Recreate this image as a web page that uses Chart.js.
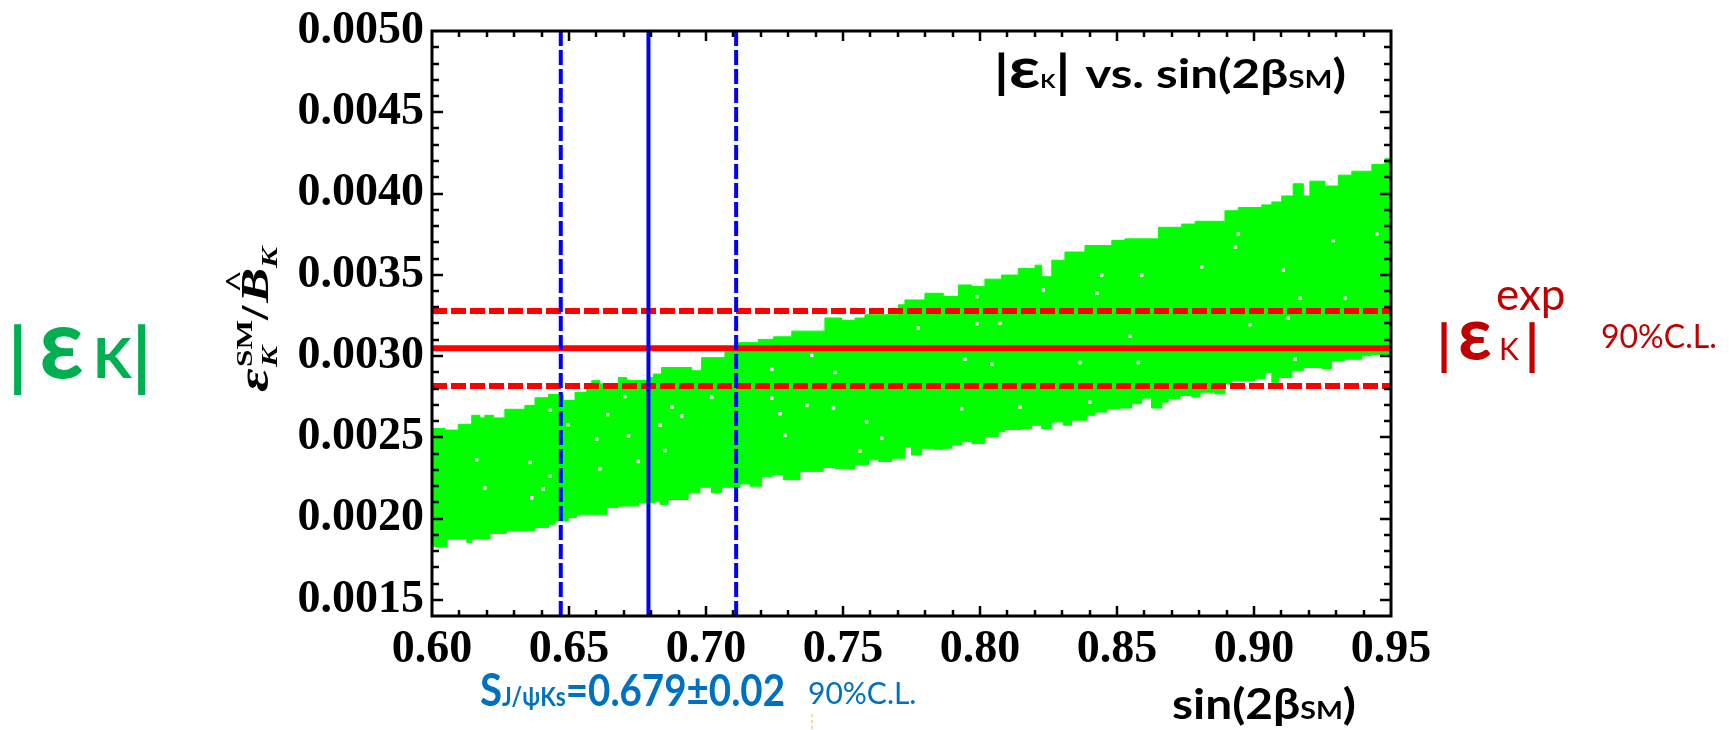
<!DOCTYPE html>
<html>
<head>
<meta charset="utf-8">
<script src="https://cdn.jsdelivr.net/npm/chart.js@4.4.1/dist/chart.umd.min.js"></script>
<style>
  html, body { margin: 0; padding: 0; background: #ffffff; }
  #wrap { width: 1734px; height: 730px; position: relative; }
</style>
</head>
<body>
<div id="wrap"><canvas id="c" width="1734" height="730"></canvas></div>
<script>
// ---------------- data ----------------
const xRange = [0.60, 0.95];
const yRange = [0.0014, 0.0050];
const xTickValues = [0.60, 0.65, 0.70, 0.75, 0.80, 0.85, 0.90, 0.95];
const yTickValues = [0.0015, 0.0020, 0.0025, 0.0030, 0.0035, 0.0040, 0.0045, 0.0050];

// upper envelope of the green scan region (x where each step starts, value of the step)
const upperX = [0.6000, 0.6005, 0.6047, 0.6096, 0.6145, 0.6175, 0.6193, 0.6224, 0.6266, 0.6339, 0.6376, 0.6425, 0.6479, 0.6522, 0.6565, 0.6583, 0.6613, 0.6638, 0.6680, 0.6711, 0.6790, 0.6808, 0.6838, 0.6948, 0.6984, 0.7069, 0.7118, 0.7191, 0.7246, 0.7313, 0.7434, 0.7495, 0.7544, 0.7580, 0.7702,
                0.7726, 0.7799, 0.7866, 0.7921, 0.7970, 0.8018, 0.8079, 0.8140, 0.8201, 0.8225, 0.8262, 0.8310, 0.8383, 0.8481, 0.8529, 0.8651, 0.8736, 0.8785, 0.8894, 0.8943, 0.9028, 0.9065, 0.9101, 0.9143, 0.9180, 0.9204, 0.9259, 0.9308, 0.9357, 0.9430, 0.9478, 0.9500];
const upperY = [0.002534, 0.002554, 0.002544, 0.002580, 0.002635, 0.002619, 0.002635, 0.002619, 0.002672, 0.002696, 0.002743, 0.002763, 0.002726, 0.002777, 0.002797, 0.002848, 0.002828, 0.002818, 0.002868, 0.002850, 0.002868, 0.002889, 0.002929, 0.002909, 0.002990, 0.003031, 0.003082, 0.003102, 0.003118, 0.003153, 0.003234, 0.003220, 0.003234, 0.003254, 0.003315,
                0.003345, 0.003386, 0.003366, 0.003437, 0.003427, 0.003473, 0.003498, 0.003538, 0.003559, 0.003488, 0.003589, 0.003640, 0.003680, 0.003711, 0.003721, 0.003792, 0.003812, 0.003829, 0.003894, 0.003914, 0.003930, 0.003948, 0.003985, 0.004060, 0.003985, 0.004076, 0.004046, 0.004113, 0.004137, 0.004178, 0.004214, 0.004214];

// lower envelope of the green scan region
const lowerX = [0.6000, 0.6055, 0.6127, 0.6145, 0.6212, 0.6272, 0.6376, 0.6425, 0.6449, 0.6497, 0.6528, 0.6638, 0.6680, 0.6753, 0.6814, 0.6832, 0.6862, 0.6935, 0.6978, 0.7020, 0.7057, 0.7124, 0.7161, 0.7203, 0.7240, 0.7282, 0.7343, 0.7428, 0.7471, 0.7544, 0.7593, 0.7629, 0.7678,
                0.7726, 0.7750, 0.7787, 0.7830, 0.7866, 0.7896, 0.7933, 0.7970, 0.8018, 0.8067, 0.8091, 0.8152, 0.8188, 0.8225, 0.8262, 0.8304, 0.8334, 0.8389, 0.8420, 0.8462, 0.8511, 0.8553, 0.8590, 0.8626, 0.8663, 0.8687, 0.8730, 0.8772, 0.8803, 0.8857, 0.8894, 0.8918, 0.9004, 0.9040, 0.9065, 0.9089, 0.9138, 0.9180, 0.9247, 0.9283, 0.9332, 0.9393, 0.9430, 0.9500];
const lowerY = [0.001827, 0.001874, 0.001853, 0.001874, 0.001908, 0.001924, 0.001945, 0.001965, 0.001985, 0.002006, 0.002026, 0.002067, 0.002077, 0.002097, 0.002107, 0.002087, 0.002117, 0.002158, 0.002192, 0.002158, 0.002192, 0.002213, 0.002199, 0.002259, 0.002270, 0.002239, 0.002290, 0.002314, 0.002306, 0.002331, 0.002361, 0.002351, 0.002371,
                0.002442, 0.002391, 0.002432, 0.002426, 0.002432, 0.002452, 0.002473, 0.002462, 0.002503, 0.002534, 0.002548, 0.002554, 0.002574, 0.002554, 0.002594, 0.002574, 0.002605, 0.002635, 0.002655, 0.002676, 0.002680, 0.002706, 0.002741, 0.002680, 0.002716, 0.002737, 0.002757, 0.002747, 0.002777, 0.002767, 0.002828, 0.002848, 0.002862, 0.002899, 0.002838, 0.002868, 0.002909, 0.002929, 0.002923, 0.002970, 0.002980, 0.003001, 0.003010, 0.003010];

// empty (white) spots inside the scanned region
const gapX = [0.6163, 0.6193, 0.6358, 0.6364, 0.6406, 0.6431, 0.6431, 0.6497, 0.6601, 0.6613, 0.6641, 0.6704, 0.6717, 0.6753, 0.6832, 0.6850, 0.6875, 0.6911, 0.7021, 0.7240, 0.7270, 0.7288, 0.7368, 0.7465, 0.7562, 0.7586, 0.7641, 0.7240, 0.7471, 0.7386,
              0.7775, 0.7988, 0.8073, 0.8365, 0.8547, 0.8985, 0.9125, 0.9107, 0.9289, 0.8943, 0.8931, 0.8809, 0.8590, 0.8444, 0.8426, 0.8231, 0.7988, 0.9168, 0.9332, 0.9448, 0.7933, 0.8146, 0.8401, 0.7945, 0.8043, 0.9150, 0.8577];
const gapY = [0.002361, 0.002188, 0.002345, 0.002127, 0.002182, 0.002260, 0.002666, 0.002578, 0.002489, 0.002306, 0.002639, 0.002751, 0.002509, 0.002351, 0.002574, 0.002418, 0.002686, 0.002631, 0.002747, 0.002741, 0.002645, 0.002513, 0.002696, 0.002680, 0.002416, 0.002594, 0.002493, 0.002919, 0.002899, 0.003004,
              0.003173, 0.003199, 0.003203, 0.002960, 0.003122, 0.003193, 0.003234, 0.003528, 0.003711, 0.003752, 0.003670, 0.003549, 0.003498, 0.003498, 0.003386, 0.003406, 0.003366, 0.003356, 0.003356, 0.003752, 0.002676, 0.002686, 0.002716, 0.002980, 0.002949, 0.002980, 0.002960];

// S_{J/psi Ks} band (vertical lines)
const sPsiKs = [0.647, 0.679, 0.711];     // low, central, high
// |eps_K| experimental band (horizontal lines)
const epsExp = [0.002816, 0.003047, 0.003277]; // low, central, high

// ---------------- helpers ----------------
const pts = (xs, ys) => xs.map((x, i) => ({ x: x, y: ys[i] }));
const hLine = (y) => [{ x: xRange[0], y: y }, { x: xRange[1], y: y }];
const vLine = (x) => [{ x: x, y: yRange[0] }, { x: x, y: yRange[1] }];

const GREEN = '#00ff00', RED = '#ff0000', BLUE = '#0000ff';

// draw a sequence of text runs; run: {t, font, dy, stack(back to previous x)}
function drawRuns(ctx, runs, x0, baseline, color, targetWidth) {
  ctx.save();
  let cur = 0, prevStart = 0;
  const layout = [];
  runs.forEach(r => {
    ctx.font = r.font;
    const w = ctx.measureText(r.t).width;
    let xs;
    if (r.stack) { xs = prevStart; cur = Math.max(cur, prevStart + w); }
    else { xs = cur; prevStart = cur; cur += w + (r.gap || 0); }
    layout.push({ r: r, x: xs, w: w });
  });
  const sx = targetWidth ? targetWidth / cur : 1;
  ctx.translate(x0, baseline);
  ctx.scale(sx, 1);
  ctx.fillStyle = color;
  ctx.textBaseline = 'alphabetic';
  ctx.textAlign = 'left';
  layout.forEach(l => {
    ctx.font = l.r.font;
    ctx.fillText(l.r.t, l.x, l.r.dy || 0);
    if (l.r.hat) {
      ctx.font = l.r.hatFont;
      const hw = ctx.measureText('^').width;
      ctx.fillText('^', l.x + l.w / 2 - hw / 2 + (l.r.hatDx || 0), (l.r.dy || 0) + l.r.hatDy);
    }
  });
  ctx.restore();
}

// frame, inward ticks and annotations
const framePlugin = {
  id: 'framePlugin',
  afterDatasetsDraw(chart) {
    const ctx = chart.ctx, a = chart.chartArea;
    const xs = chart.scales.x, ys = chart.scales.y;
    ctx.save();
    ctx.strokeStyle = '#000';
    ctx.lineWidth = 3;
    ctx.strokeRect(a.left, a.top, a.right - a.left, a.bottom - a.top);
    ctx.lineWidth = 2.5;
    ctx.beginPath();
    for (let i = 61; i < 95; i++) {
      const px = Math.round(xs.getPixelForValue(i / 100));
      const len = (i % 5 === 0) ? 10 : 6;
      ctx.moveTo(px, a.bottom); ctx.lineTo(px, a.bottom - len);
      ctx.moveTo(px, a.top); ctx.lineTo(px, a.top + len);
    }
    for (let i = 15; i < 50; i++) {
      const py = Math.round(ys.getPixelForValue(i / 10000));
      const len = (i % 5 === 0) ? 11 : 7;
      ctx.moveTo(a.left, py); ctx.lineTo(a.left + len, py);
      ctx.moveTo(a.right, py); ctx.lineTo(a.right - len, py);
    }
    ctx.stroke();
    ctx.restore();
  },
  afterDraw(chart) {
    const ctx = chart.ctx;
    // left green |eps_K|
    const gC = '#00b050';
    ctx.save();
    ctx.fillStyle = gC;
    ctx.textBaseline = 'alphabetic';
    ctx.font = 'bold 74px Lato';
    ctx.fillText('|', 8, 382);
    ctx.fillText('|', 132, 382);
    ctx.font = 'bold 98px Lato';
    ctx.fillText('ε', 39, 378);
    ctx.font = 'bold 56px Lato';
    ctx.fillText('K', 93, 378);
    // right red |eps_K|^exp
    const rC = '#c00000';
    ctx.fillStyle = rC;
    ctx.font = 'bold 54px Lato';
    ctx.fillText('|', 1437, 364);
    ctx.fillText('|', 1525, 364);
    ctx.font = 'bold 74px Lato';
    ctx.fillText('ε', 1458, 360);
    ctx.font = '30px Lato';
    ctx.fillText('K', 1499, 360);
    ctx.font = '44px Lato';
    ctx.fillText('exp', 1496, 310);
    ctx.font = '32px Lato';
    ctx.fillText('90%C.L.', 1601, 348);
    ctx.restore();

    // inset title
    drawRuns(ctx, [
      { t: '|', font: 'bold 46px Lato' },
      { t: 'ε', font: 'bold 56px Lato' },
      { t: 'K', font: 'bold 18px Lato' },
      { t: '|', font: 'bold 46px Lato', gap: 12 },
      { t: 'vs. sin(2β', font: 'bold 40px Lato' },
      { t: 'SM', font: 'bold 24px Lato' },
      { t: ')', font: 'bold 40px Lato' }
    ], 994, 88, '#000', 352);

    // x axis title
    drawRuns(ctx, [
      { t: 'sin(2β', font: 'bold 42px Lato' },
      { t: 'SM', font: 'bold 25px Lato' },
      { t: ')', font: 'bold 42px Lato' }
    ], 1172, 719, '#000', 184);

    // S_{J/psi Ks} annotation
    const bC = '#0070c0';
    drawRuns(ctx, [
      { t: 'S', font: 'bold 46px Lato' },
      { t: 'J/ψKs', font: 'bold 26px Lato' },
      { t: '=0.679±0.02', font: 'bold 44px Lato' }
    ], 480, 706, bC, 305);
    ctx.save();
    ctx.fillStyle = bC;
    ctx.font = '30px Lato';
    ctx.textBaseline = 'alphabetic';
    ctx.fillText('90%C.L.', 808, 704);
    // faint dashed mark under the label (present in the source slide)
    ctx.strokeStyle = '#f6c88c';
    ctx.lineWidth = 1.5;
    ctx.setLineDash([3, 3]);
    ctx.beginPath();
    ctx.moveTo(812, 714); ctx.lineTo(812, 730);
    ctx.stroke();
    ctx.restore();

    // rotated y axis title:  eps_K^SM / B^_K
    ctx.save();
    ctx.translate(268, 392);
    ctx.rotate(-Math.PI / 2);
    drawRuns(ctx, [
      { t: 'ε', font: 'bold italic 44px "Liberation Serif"', gap: 1 },
      { t: 'SM', font: 'bold 24px "Liberation Serif"', dy: -16 },
      { t: 'K', font: 'bold italic 24px "Liberation Serif"', dy: 9, stack: true },
      { t: '/', font: 'bold 40px "Liberation Serif"', gap: 2 },
      { t: 'B', font: 'bold italic 40px "Liberation Serif"', hat: true, hatFont: 'bold 30px "Liberation Serif"', hatDy: -22, hatDx: 3 },
      { t: 'K', font: 'bold italic 24px "Liberation Serif"', dy: 9 }
    ], 0, 0, '#000', 145);
    ctx.restore();
  }
};

const chart = new Chart(document.getElementById('c'), {
  type: 'line',
  data: {
    datasets: [
      { label: 'scan-lower', data: pts(lowerX, lowerY), stepped: 'before', borderWidth: 1, borderColor: GREEN, backgroundColor: GREEN, pointRadius: 0, fill: false, order: 10 },
      { label: 'scan-upper', data: pts(upperX, upperY), stepped: 'before', borderWidth: 1, borderColor: GREEN, backgroundColor: GREEN, pointRadius: 0, fill: '-1', order: 9 },
      { label: 'scan-gaps', data: pts(gapX, gapY), showLine: false, pointStyle: 'rect', pointRadius: 2.4, pointBorderWidth: 0, pointBackgroundColor: '#ffffff', borderColor: '#ffffff', fill: false, order: 5 },
      { label: 'eps low', data: hLine(epsExp[0]), borderColor: RED, borderWidth: 6, borderDash: [15, 4], pointRadius: 0, fill: false, order: 2 },
      { label: 'eps central', data: hLine(epsExp[1]), borderColor: RED, borderWidth: 6, pointRadius: 0, fill: false, order: 2 },
      { label: 'eps high', data: hLine(epsExp[2]), borderColor: RED, borderWidth: 6, borderDash: [15, 4], pointRadius: 0, fill: false, order: 2 },
      { label: 'S low', data: vLine(sPsiKs[0]), borderColor: BLUE, borderWidth: 4, borderDash: [15, 4], pointRadius: 0, fill: false, order: 1 },
      { label: 'S central', data: vLine(sPsiKs[1]), borderColor: BLUE, borderWidth: 4, pointRadius: 0, fill: false, order: 1 },
      { label: 'S high', data: vLine(sPsiKs[2]), borderColor: BLUE, borderWidth: 4, borderDash: [15, 4], pointRadius: 0, fill: false, order: 1 }
    ]
  },
  options: {
    responsive: false,
    devicePixelRatio: 1,
    animation: false,
    events: [],
    layout: { padding: { left: 0, right: 343, top: 25, bottom: 0 } },
    plugins: { legend: { display: false }, tooltip: { enabled: false }, title: { display: false } },
    scales: {
      x: {
        type: 'linear', min: xRange[0], max: xRange[1],
        border: { display: false },
        grid: { display: false, drawTicks: false },
        ticks: {
          font: { family: '"Liberation Serif"', size: 46, weight: 'bold', lineHeight: 1 },
          color: '#000', padding: 11, maxRotation: 0, autoSkip: false,
          callback: (v) => Number(v).toFixed(2)
        },
        afterBuildTicks: (s) => { s.ticks = xTickValues.map(v => ({ value: v })); },
        afterFit: (s) => { s.height = 114; }
      },
      y: {
        type: 'linear', min: yRange[0], max: yRange[1],
        border: { display: false },
        grid: { display: false, drawTicks: false },
        ticks: {
          font: { family: '"Liberation Serif"', size: 46, weight: 'bold', lineHeight: 1 },
          color: '#000', padding: 8, autoSkip: false,
          callback: (v) => Number(v).toFixed(4)
        },
        afterBuildTicks: (s) => { s.ticks = yTickValues.map(v => ({ value: v })); },
        afterFit: (s) => { s.width = 432; }
      }
    }
  },
  plugins: [framePlugin]
});
</script>
</body>
</html>
